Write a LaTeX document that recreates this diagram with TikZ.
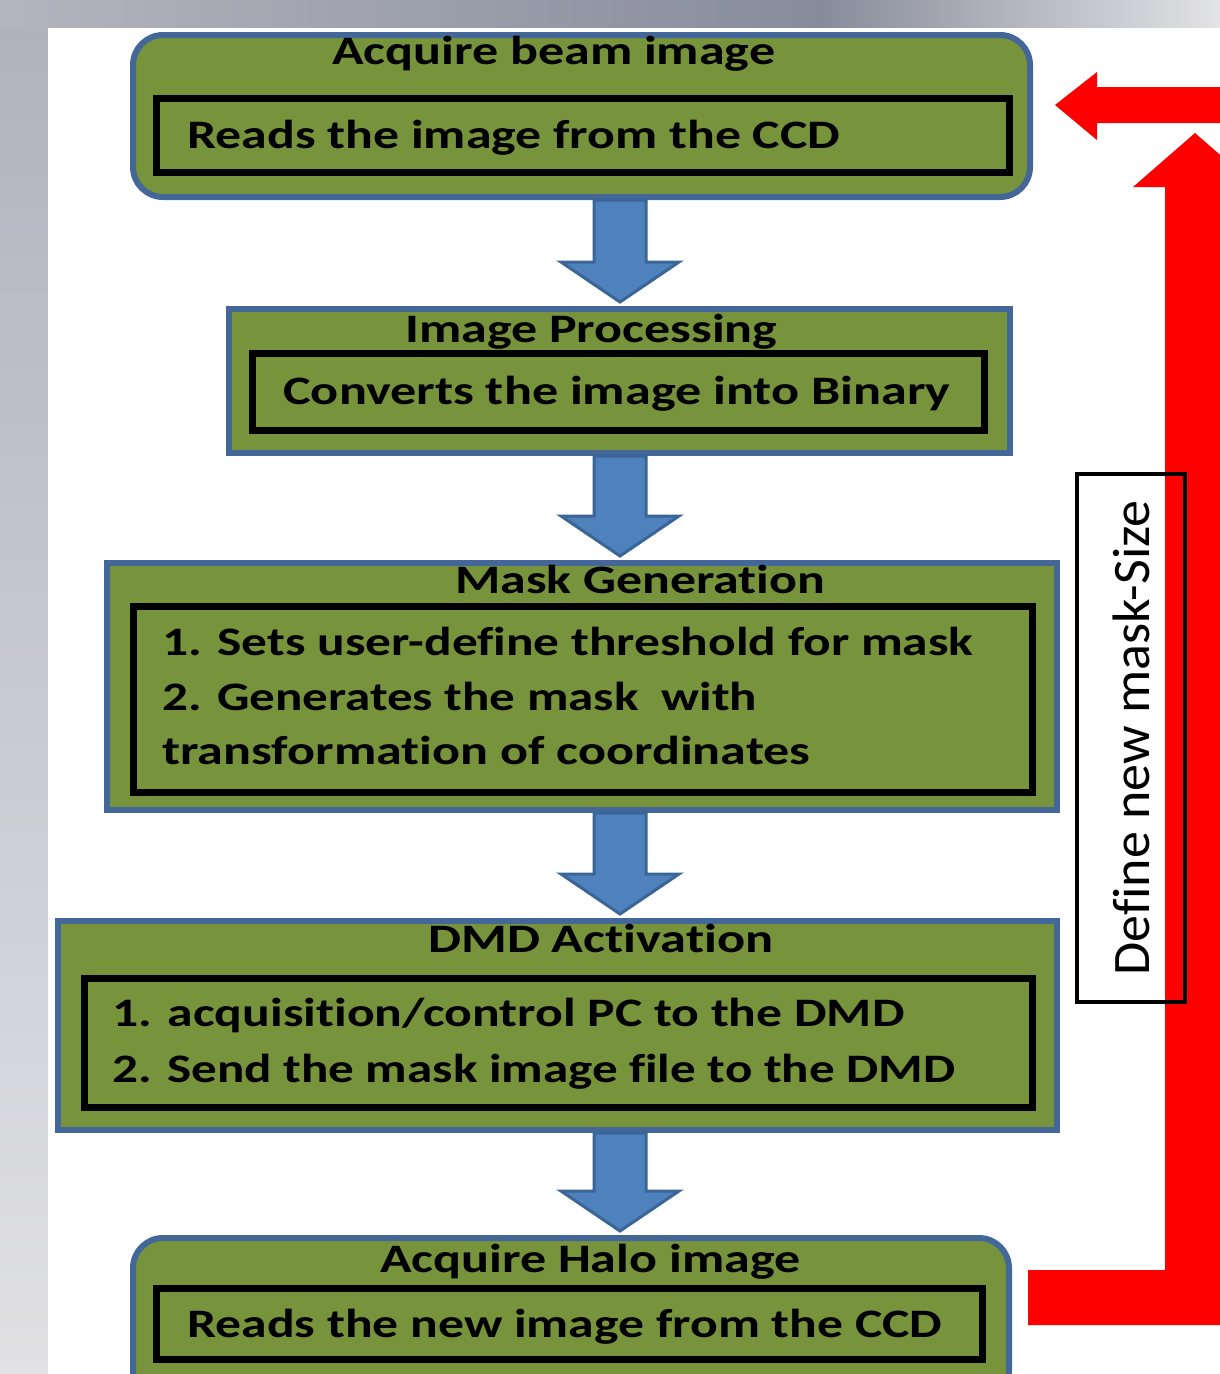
\documentclass[tikz,border=0pt]{standalone}
\usepackage{fontspec}
\setmainfont{Carlito}[RawFeature={-liga;-clig;-calt;-dlig}]
\usetikzlibrary{calc}
\newdimen\pxu \pxu=0.02cm
\definecolor{olivefill}{HTML}{77933C}
\definecolor{boxline}{HTML}{44679A}
\definecolor{arrfill}{HTML}{4F81BD}
\definecolor{arrline}{HTML}{3A6597}
\definecolor{bgA}{HTML}{B3B5BF}
\definecolor{bgB}{HTML}{878C9B}
\definecolor{bgC}{HTML}{E3E3E5}
\definecolor{bgD}{HTML}{B0B3BE}
\definecolor{bgE}{HTML}{E1E1E4}
\newcommand{\fw}[2]{\resizebox{#1\pxu}{\height}{#2}}
\newcommand{\blockarr}[2]{%
  \path[blockarrow] let \p1=(ax |- #1.south), \p2=(ax |- #2.north) in
    (\x1-26\pxu,\y1) -- (\x1+26\pxu,\y1) -- (\x1+26\pxu,\y2+44\pxu)
    -- (\x1+59\pxu,\y2+44\pxu) -- (\x1,\y2+4\pxu) -- (\x1-59\pxu,\y2+44\pxu)
    -- (\x1-26\pxu,\y2+44\pxu) -- cycle;}
\begin{document}
\begin{tikzpicture}[x=0.02cm,y=-0.02cm,
  outerbox/.style={draw=boxline, fill=olivefill, line width=6\pxu, inner sep=0pt},
  innerbox/.style={draw=black, line width=7\pxu, inner sep=0pt},
  txt/.style={inner sep=0pt, anchor=base west, font=\bfseries\fontsize{23}{27}\selectfont},
  blockarrow/.style={draw=arrline, fill=arrfill, line width=3\pxu, line join=miter},
  redarrow/.style={fill=red},
  labelbox/.style={draw=black, line width=4\pxu, inner sep=0pt, rotate=90,
    font=\fontsize{30}{36}\selectfont}]
\clip (0,0) rectangle (1220,1374);
% background
\shade[left color=bgA, right color=bgB] (0,0) rectangle (820,28);
\shade[left color=bgB, right color=bgC] (820,0) rectangle (1220,28);
\shade[top color=bgD, bottom color=bgE] (0,28) rectangle (48,1374);
\fill[white] (48,28) rectangle (1220,1374);
\coordinate (ax) at (620,0);
% boxes
\node[outerbox, rounded corners=30\pxu, minimum width=897\pxu, minimum height=162\pxu] (b1) at (581.5,116) {};
\node[innerbox, minimum width=853\pxu, minimum height=74\pxu] (i1) at (582.5,135) {};
\node[outerbox, minimum width=781\pxu, minimum height=144\pxu] (b2) at (619.5,381) {};
\node[innerbox, minimum width=732\pxu, minimum height=77\pxu] (i2) at (618,391.5) {};
\node[outerbox, minimum width=950\pxu, minimum height=247\pxu] (b3) at (582,686.5) {};
\node[innerbox, minimum width=899\pxu, minimum height=186\pxu] (i3) at (582.5,699) {};
\node[outerbox, minimum width=999\pxu, minimum height=209\pxu] (b4) at (557.5,1025.5) {};
\node[innerbox, minimum width=948\pxu, minimum height=129\pxu] (i4) at (558,1042.5) {};
\node[outerbox, rounded corners=30\pxu, minimum width=876\pxu, minimum height=162\pxu] (b5) at (571,1319) {};
\node[innerbox, minimum width=826\pxu, minimum height=71\pxu] (i5) at (569,1323.5) {};
% texts
\node[txt] (t1) at (332,64) {\fw{443}{Acquire beam image}};
\node[txt] (s1) at (187,148) {\fw{653}{Reads the image from the CCD}};
\node[txt] (t2) at (405,342) {\fw{372}{Image Processing}};
\node[txt] (s2) at (283,404) {\fw{667}{Converts the image into Binary}};
\node[txt] (t3) at (455,593) {\fw{370}{Mask Generation}};
\node[txt] (s3a) at (162,655) {\fw{811}{1. Sets user-define threshold for mask}};
\node[txt] (s3b) at (162,710) {\fw{595}{2. Generates the mask\ \ with}};
\node[txt] (s3c) at (162,764) {\fw{648}{transformation of coordinates}};
\node[txt] (t4) at (428,952) {\fw{345}{DMD Activation}};
\node[txt] (s4a) at (112,1026) {\fw{792}{1. acquisition/control PC to the DMD}};
\node[txt] (s4b) at (112,1082) {\fw{843}{2. Send the mask image file to the DMD}};
\node[txt] (t5) at (380,1272) {\fw{420}{Acquire Halo image}};
\node[txt] (s5) at (187,1337) {\fw{755}{Reads the new image from the CCD}};
% blue arrows
\blockarr{b1}{b2}
\blockarr{b2}{b3}
\blockarr{b3}{b4}
\blockarr{b4}{b5}
% red feedback arrows
\coordinate (rs) at ($(b5.east)+(16,0)$);
\coordinate (rt) at ($(b1.east)+(22,0)$);
\path[redarrow] (rs |- 0,1270) -- (1165,1270) -- (1165,187) -- (1133,187) -- (1195,133)
  -- (1257,187) -- (1225,187) -- (1225,1325) -- (rs |- 0,1325) -- cycle;
\path[redarrow] (rt |- 0,105) -- (1097,72) -- (1097,87) -- (1240,87) -- (1240,123)
  -- (1097,123) -- (1097,140) -- cycle;
% label
\node[labelbox, minimum width=528\pxu, minimum height=108\pxu] (lbl) at (1131,738) {\fw{475}{Define new mask-Size}};
\end{tikzpicture}
\end{document}
